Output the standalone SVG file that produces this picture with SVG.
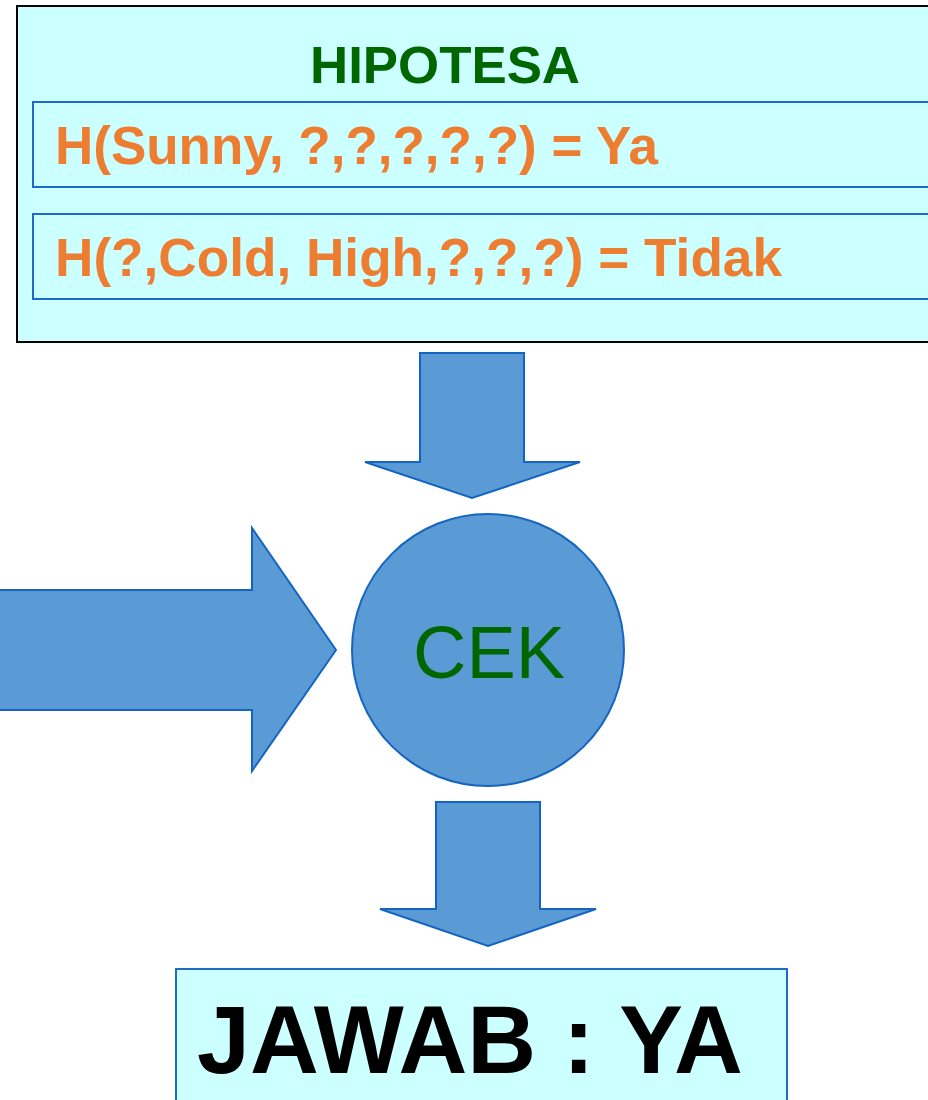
<svg xmlns="http://www.w3.org/2000/svg" width="928" height="1100" viewBox="0 0 928 1100">
<style>
.box{fill:#CCFFFF;}
.outer{stroke:#000;stroke-width:2;}
.inner{fill:none;stroke:#1F6BC4;stroke-width:2;}
.arrow{fill:#5B9BD5;stroke:#1565C0;stroke-width:2;stroke-linejoin:miter;}
.hyp{font-family:"Liberation Sans",Arial,sans-serif;font-weight:bold;fill:#ED7D31;font-size:53px;}
</style>
<rect width="928" height="1100" fill="#fff"/>
<g id="hipotesa">
<rect class="box outer" x="17" y="6" width="930" height="336"/>
<text x="445" y="83" text-anchor="middle" font-family="Liberation Sans,Arial,sans-serif" font-weight="bold" font-size="51" fill="#006600" textLength="270" lengthAdjust="spacingAndGlyphs">HIPOTESA</text>
<rect class="inner" x="33" y="102" width="910" height="85"/>
<text class="hyp" x="55" y="164" textLength="603" lengthAdjust="spacingAndGlyphs">H(Sunny, ?,?,?,?,?) = Ya</text>
<rect class="inner" x="33" y="214" width="910" height="85"/>
<text class="hyp" x="55" y="276" textLength="727" lengthAdjust="spacingAndGlyphs">H(?,Cold, High,?,?,?) = Tidak</text>
</g>
<g id="connectors">
<polygon class="arrow" points="420,353 524,353 524,462 580,462 472,498 365,462 420,462"/>
<polygon class="arrow" points="-5,590 252,590 252,528 336,650 252,771 252,710 -5,710"/>
<polygon class="arrow" points="436,802 540,802 540,909 596,909 488,946 380,909 436,909"/>
</g>
<g id="cek">
<circle cx="488" cy="650" r="136" fill="#5B9BD5" stroke="#1565C0" stroke-width="2"/>
<text x="489" y="678" text-anchor="middle" font-family="Liberation Sans,Arial,sans-serif" font-size="75" fill="#006600" textLength="152" lengthAdjust="spacingAndGlyphs">CEK</text>
</g>
<g id="jawab">
<rect class="box" x="176" y="969" width="611" height="140" stroke="#1F6BC4" stroke-width="2"/>
<text x="197" y="1073" font-family="Liberation Sans,Arial,sans-serif" font-weight="bold" font-size="96" fill="#000" textLength="546" lengthAdjust="spacingAndGlyphs">JAWAB : YA</text>
</g>
</svg>
